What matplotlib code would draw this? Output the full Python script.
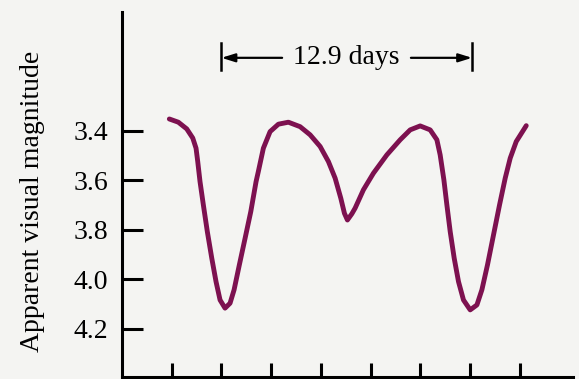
import numpy as np
import matplotlib.pyplot as plt

# light curve (x in tick units, y in magnitudes)
phase = [0.952, 1.133, 1.302, 1.423, 1.489, 1.523, 1.569, 1.636, 1.716, 1.805, 1.891, 1.972,
         2.072, 2.173, 2.254, 2.360, 2.475, 2.590, 2.696, 2.742, 2.843, 2.978, 3.145, 3.346,
         3.581, 3.783, 3.984, 4.151, 4.286, 4.400, 4.473, 4.533, 4.622, 4.688, 4.855, 5.056,
         5.326, 5.594, 5.795, 5.996, 6.197, 6.332, 6.398, 6.473, 6.533, 6.600, 6.680, 6.767,
         6.867, 7.002, 7.137, 7.237, 7.350, 7.471, 7.592, 7.706, 7.807, 7.928, 8.129]
magnitude = [3.352, 3.365, 3.392, 3.429, 3.470, 3.524, 3.605, 3.699, 3.807, 3.914, 4.009, 4.083,
             4.116, 4.096, 4.042, 3.941, 3.834, 3.726, 3.605, 3.564, 3.470, 3.403, 3.373, 3.365,
             3.383, 3.416, 3.463, 3.524, 3.591, 3.672, 3.733, 3.760, 3.735, 3.712, 3.638, 3.571,
             3.497, 3.436, 3.396, 3.380, 3.396, 3.436, 3.497, 3.598, 3.699, 3.807, 3.914, 4.009,
             4.083, 4.123, 4.103, 4.042, 3.941, 3.820, 3.699, 3.591, 3.510, 3.443, 3.379]
yticks = [3.4, 3.6, 3.8, 4.0, 4.2]
xticks = [1, 2, 3, 4, 5, 6, 7, 8]
period_start, period_end = 2.0, 7.04
period_label = "12.9 days"

serif = ['Liberation Serif', 'DejaVu Serif']
bg = '#f4f4f2'
fig = plt.figure(figsize=(5.79, 3.79), dpi=100, facecolor=bg)
ax = fig.add_axes([0.2107, 0.0053, 0.779, 0.963], facecolor=bg)

ax.plot(phase, magnitude, color='#7d1150', linewidth=3.5,
        solid_joinstyle='round', solid_capstyle='round')

ax.set_xlim(0, 9.07)
ax.set_ylim(4.394, 2.92)

for s in ['top', 'right']:
    ax.spines[s].set_visible(False)
for s in ['left', 'bottom']:
    ax.spines[s].set_linewidth(2.2)
    ax.spines[s].set_color('black')

ax.set_yticks(yticks)
ax.set_yticklabels([f"{v:.1f}" for v in yticks], family=serif, fontsize=20)
ax.set_xticks(xticks)
ax.set_xticklabels([])
ax.tick_params(axis='y', direction='in', length=15, width=2.2, pad=10)
ax.tick_params(axis='x', direction='in', length=10, width=2.2)

ax.set_ylabel("Apparent visual magnitude", family=serif, fontsize=20)
ax.yaxis.set_label_coords(-0.171, 0.481)

# period marker
y_arr = 3.105
ax.plot([period_start, period_start], [3.044, 3.154], color='black', lw=1.8)
ax.plot([period_end, period_end], [3.044, 3.154], color='black', lw=1.8)
ax.annotate('', xy=(period_start, y_arr), xytext=(3.22, y_arr),
            arrowprops=dict(arrowstyle='-|>,head_length=0.8,head_width=0.25', color='black',
                            lw=1.6, shrinkA=0, shrinkB=0))
ax.annotate('', xy=(period_end, y_arr), xytext=(5.81, y_arr),
            arrowprops=dict(arrowstyle='-|>,head_length=0.8,head_width=0.25', color='black',
                            lw=1.6, shrinkA=0, shrinkB=0))
ax.text((3.22 + 5.81) / 2, y_arr, period_label, ha='center', va='center',
        family=serif, fontsize=20)

fig.savefig('out.png', dpi=100, facecolor=bg)
